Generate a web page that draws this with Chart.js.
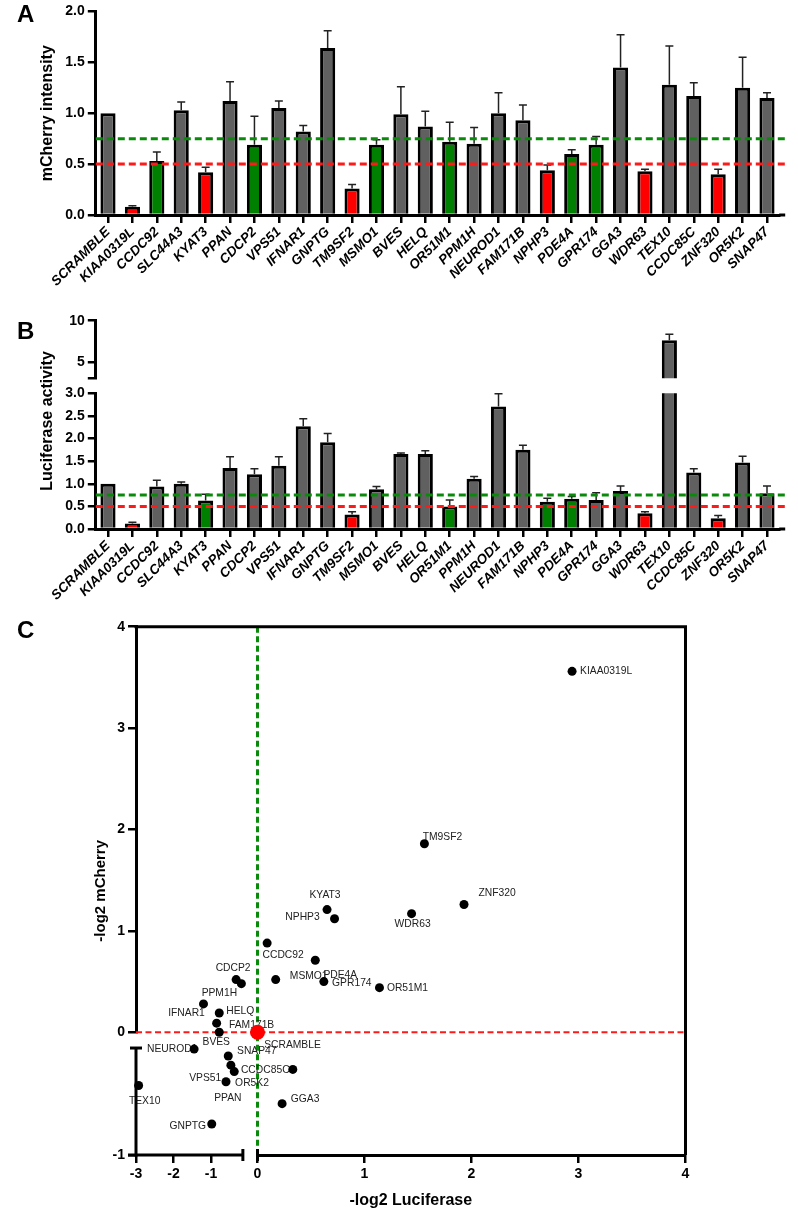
<!DOCTYPE html>
<html>
<head>
<meta charset="utf-8">
<script src="https://cdn.jsdelivr.net/npm/chart.js@4.4.0/dist/chart.umd.min.js"></script>
<style>
  body { margin: 0; background: #fff; }
  #wrap { position: relative; width: 798px; height: 1215px; overflow: hidden; }
  canvas { position: absolute; left: 0; }
  .tag { position: absolute; left: 17px; font: bold 24px "Liberation Sans", Arial, sans-serif; line-height: 1; color: #000; }
</style>
</head>
<body>
<div id="wrap">
  <canvas id="chartA" width="798" height="300" style="top:0"></canvas>
  <canvas id="chartBlow" width="798" height="320" style="top:300px"></canvas>
  <canvas id="chartBup" width="798" height="90" style="top:300px"></canvas>
  <canvas id="chartC" width="798" height="615" style="top:600px"></canvas>
  <div class="tag" style="top:2px">A</div>
  <div class="tag" style="top:319px">B</div>
  <div class="tag" style="top:618px">C</div>
</div>
<script>
var genes = ['SCRAMBLE', 'KIAA0319L', 'CCDC92', 'SLC44A3', 'KYAT3', 'PPAN', 'CDCP2', 'VPS51', 'IFNAR1', 'GNPTG',
  'TM9SF2', 'MSMO1', 'BVES', 'HELQ', 'OR51M1', 'PPM1H', 'NEUROD1', 'FAM171B', 'NPHP3', 'PDE4A',
  'GPR174', 'GGA3', 'WDR63', 'TEX10', 'CCDC85C', 'ZNF320', 'OR5K2', 'SNAP47'];

// panel A - mCherry intensity, mean and error
var mcherry = [1.00, 0.08, 0.53, 1.03, 0.42, 1.12, 0.69, 1.05, 0.82, 1.64,
  0.26, 0.69, 0.99, 0.87, 0.72, 0.70, 1.00, 0.93, 0.44, 0.60,
  0.69, 1.45, 0.43, 1.28, 1.17, 0.40, 1.25, 1.15];
var mcherryErr = [0, 0.01, 0.09, 0.08, 0.05, 0.19, 0.28, 0.07, 0.06, 0.17,
  0.04, 0.05, 0.27, 0.15, 0.19, 0.16, 0.20, 0.15, 0.05, 0.04,
  0.08, 0.32, 0.02, 0.38, 0.13, 0.05, 0.30, 0.05];
// 0 = not a hit, 1 = below 0.75, 2 = below 0.5
var hitA = [0, 2, 1, 0, 2, 0, 1, 0, 0, 0, 2, 1, 0, 0, 1, 0, 0, 0, 2, 1, 1, 0, 2, 0, 0, 2, 0, 0];

// panel B - luciferase activity, mean and error
var luciferase = [1.00, 0.12, 0.94, 1.00, 0.63, 1.35, 1.21, 1.40, 2.27, 1.92,
  0.32, 0.88, 1.66, 1.66, 0.50, 1.11, 2.71, 1.75, 0.60, 0.67,
  0.64, 0.84, 0.35, 7.63, 1.25, 0.24, 1.47, 0.79];
var luciferaseErr = [0, 0.03, 0.14, 0.04, 0.14, 0.25, 0.12, 0.20, 0.17, 0.19,
  0.06, 0.06, 0.02, 0.07, 0.14, 0.05, 0.28, 0.10, 0.08, 0.05,
  0.16, 0.11, 0.03, 0.72, 0.08, 0.06, 0.14, 0.16];
var hitB = [0, 2, 0, 0, 1, 0, 0, 0, 0, 0, 2, 0, 0, 0, 1, 0, 0, 0, 1, 1, 0, 0, 2, 0, 0, 2, 0, 0];

var thresholds = [0.75, 0.5];

// panel C - -log2 luciferase (x) vs -log2 mCherry (y)
var scatterX = [0, 2.94, 0.09, 0, 0.65, -0.47, -0.33, -0.54, -1.20, -0.98,
  1.56, 0.17, -0.78, -0.78, 1.14, -0.19, -1.45, -0.85, 0.72, 0.54,
  0.62, 0.23, 1.44, -2.93, -0.38, 1.93, -0.60, 0.33];
var scatterY = [0, 3.56, 0.88, 0, 1.21, -0.16, 0.52, -0.075, 0.28, -0.71,
  1.86, 0.52, 0, 0.19, 0.44, 0.48, -0.01, 0.09, 1.12, 0.71,
  0.50, -0.52, 1.17, -0.35, -0.22, 1.26, -0.315, -0.20];

var ticksA = [0, 0.5, 1, 1.5, 2];
var ticksBLow = [0, 0.5, 1, 1.5, 2, 2.5, 3];
var ticksBHigh = [3, 5, 10];
var ticksCXLeft = [-3, -2, -1];
var ticksCXRight = [0, 1, 2, 3, 4];
var ticksCYTop = [0, 1, 2, 3, 4];
var ticksCYBot = [-1];

// ---- styling ----
var FONT = '"Liberation Sans", Arial, sans-serif';
var hitColors = ['#606060', '#008000', '#ff0000'];
var lineColors = ['#0a8a0a', '#ff1a1a'];
var tickFont = { family: FONT, size: 14, weight: 'bold' };

// where each scatter label sits relative to its dot
var labelOffsets = [[35, 13], [34, 0], [16, 12], null, [-2, -14], [-3, 33], [-3, -11], [-23, 22], [-17, 9], [-24, 2],
  [18, -7], [33, -3], [-3, 10], [21, -2], [28, 0], [-22, 10], [-22, 0], [35, 2], [-32, -2], [25, 15],
  [28, 2], [23, -4], [1, 11], [6, 16], [31, -1], [33, -11], [26, 1], [-36, -18]];

var errorBars = {
  id: 'errorBars',
  afterDatasetsDraw: function (chart, args, opts) {
    var ctx = chart.ctx, a = chart.chartArea, y = chart.scales.y;
    var meta = chart.getDatasetMeta(0), vals = chart.data.datasets[0].data;
    ctx.save();
    ctx.beginPath(); ctx.rect(a.left, a.top - 1, a.width, a.height + 1); ctx.clip();
    ctx.strokeStyle = '#222'; ctx.lineWidth = 1.5;
    opts.err.forEach(function (e, i) {
      if (!e || vals[i] + e < y.min) return;
      var bar = meta.data[i];
      var y0 = y.getPixelForValue(vals[i]), y1 = y.getPixelForValue(vals[i] + e);
      ctx.beginPath();
      ctx.moveTo(bar.x, y0); ctx.lineTo(bar.x, y1);
      ctx.moveTo(bar.x - 4, y1); ctx.lineTo(bar.x + 4, y1);
      ctx.stroke();
    });
    ctx.restore();
  }
};

var thresholdLines = {
  id: 'thresholds',
  afterDatasetsDraw: function (chart, args, opts) {
    var ctx = chart.ctx, a = chart.chartArea, y = chart.scales.y;
    ctx.save(); ctx.lineWidth = 3; ctx.setLineDash([7, 4]);
    (opts.lines || []).forEach(function (v, i) {
      if (v < y.min || v > y.max) return;
      var py = y.getPixelForValue(v);
      ctx.strokeStyle = lineColors[i];
      ctx.beginPath(); ctx.moveTo(a.left, py); ctx.lineTo(a.right + 6, py); ctx.stroke();
    });
    // axis line runs a little past the last category, as in the figure
    if (chart.scales.x.options.display) {
      ctx.setLineDash([]); ctx.strokeStyle = '#000';
      ctx.beginPath(); ctx.moveTo(a.right, a.bottom); ctx.lineTo(a.right + 6, a.bottom); ctx.stroke();
    }
    if (opts.title) {
      ctx.setLineDash([]);
      ctx.font = 'bold 16px ' + FONT; ctx.fillStyle = '#000';
      ctx.textAlign = 'center'; ctx.textBaseline = 'middle';
      ctx.translate(opts.title.x, opts.title.y); ctx.rotate(-Math.PI / 2);
      ctx.fillText(opts.title.text, 0, 0);
    }
    ctx.restore();
  }
};

function makeBars(id, values, errs, hits, cfg) {
  return new Chart(document.getElementById(id), {
    type: 'bar',
    data: {
      labels: genes,
      datasets: [{
        data: values,
        backgroundColor: hits.map(function (h) { return hitColors[h]; }),
        borderColor: '#000',
        borderWidth: 3,
        barPercentage: 0.62,
        categoryPercentage: 1,
        clip: 0
      }]
    },
    options: {
      responsive: false,
      animation: false,
      layout: { padding: cfg.padding },
      plugins: {
        legend: { display: false },
        tooltip: { enabled: false },
        errorBars: { err: errs },
        thresholds: { lines: cfg.lines, title: cfg.sideTitle }
      },
      scales: {
        x: {
          display: cfg.showX,
          offset: true,
          z: 1,
          afterFit: function (s) { s.height = cfg.xHeight; s.paddingLeft = 0; s.paddingRight = 0; },
          grid: { offset: false, drawOnChartArea: false, tickLength: 8, lineWidth: 2.5, color: '#000' },
          border: { color: '#000', width: 3 },
          ticks: {
            autoSkip: false, minRotation: 45, maxRotation: 45, padding: 1, color: '#000',
            font: { family: FONT, size: 13.5, weight: 'bold', style: 'italic' }
          }
        },
        y: {
          min: cfg.min,
          max: cfg.max,
          z: 1,
          afterFit: function (s) { s.width = 57.9; },
          afterBuildTicks: function (s) { s.ticks = cfg.ticks.map(function (v) { return { value: v }; }); },
          grid: { drawOnChartArea: false, tickLength: 8, lineWidth: 2.5, color: '#000' },
          border: { color: '#000', width: 3 },
          ticks: { color: '#000', font: tickFont, padding: 3, callback: cfg.fmt },
          title: cfg.title ? {
            display: true, text: cfg.title, color: '#000', padding: { top: 0, bottom: 0 },
            font: { family: FONT, size: 16, weight: 'bold' }
          } : { display: false }
        }
      }
    },
    plugins: [errorBars, thresholdLines]
  });
}

function oneDecimal(v) { return v.toFixed(1); }

makeBars('chartA', mcherry, mcherryErr, hitA, {
  padding: { left: 37.9, right: 18.8, top: 7, bottom: 0 },
  showX: true, xHeight: 85, min: 0, max: 2, ticks: ticksA, fmt: oneDecimal,
  lines: thresholds, title: 'mCherry intensity'
});

makeBars('chartBlow', luciferase, luciferaseErr, hitB, {
  padding: { left: 37.9, right: 18.8, top: 93.3, bottom: 0 },
  showX: true, xHeight: 91, min: 0, max: 3, ticks: ticksBLow, fmt: oneDecimal,
  lines: thresholds, sideTitle: { text: 'Luciferase activity', x: 47.5, y: 121 }
});

makeBars('chartBup', luciferase, luciferaseErr, hitB, {
  padding: { left: 37.9, right: 18.8, top: 20.7, bottom: 11.7 },
  showX: false, xHeight: 0, min: 3, max: 10, ticks: ticksBHigh,
  fmt: function (v) { return v === 3 ? '' : String(v); },
  lines: []
});

// ---- panel C ----
var cDashes = {
  id: 'cDashes',
  beforeDatasetsDraw: function (chart) {
    var ctx = chart.ctx, a = chart.chartArea, s = chart.scales;
    var x0 = s.xRight.getPixelForValue(0), y0 = s.yTop.getPixelForValue(0);
    ctx.save();
    ctx.setLineDash([6, 3.5]);
    ctx.strokeStyle = lineColors[1]; ctx.lineWidth = 2;
    ctx.beginPath(); ctx.moveTo(a.left, y0); ctx.lineTo(a.right, y0); ctx.stroke();
    ctx.strokeStyle = lineColors[0]; ctx.lineWidth = 3;
    ctx.beginPath(); ctx.moveTo(x0, a.top); ctx.lineTo(x0, a.bottom); ctx.stroke();
    ctx.restore();
  }
};

var geneLabels = {
  id: 'geneLabels',
  beforeDatasetsDraw: function (chart) {
    var ctx = chart.ctx;
    ctx.save();
    ctx.font = '10.3px ' + FONT; ctx.fillStyle = '#222';
    ctx.textAlign = 'center'; ctx.textBaseline = 'middle';
    chart.data.datasets.forEach(function (ds, d) {
      chart.getDatasetMeta(d).data.forEach(function (pt, j) {
        var i = ds.data[j].i, off = labelOffsets[i];
        if (!off) return;
        ctx.fillText(genes[i], pt.x + off[0], pt.y + off[1]);
      });
    });
    ctx.restore();
  }
};

var cFrame = {
  id: 'cFrame',
  afterDatasetsDraw: function (chart) {
    var ctx = chart.ctx, a = chart.chartArea, s = chart.scales;
    function line(x1, y1, x2, y2) { ctx.beginPath(); ctx.moveTo(x1, y1); ctx.lineTo(x2, y2); ctx.stroke(); }
    ctx.save();
    ctx.strokeStyle = '#000'; ctx.lineWidth = 3;
    line(a.left - 1.5, a.top, a.right + 1.5, a.top);
    line(a.right, a.top, a.right, a.bottom);
    var yb0 = s.yBot.getPixelForValue(0), yb1 = s.yBot.getPixelForValue(-1);
    line(a.left, yb0, a.left, yb1 + 1.5);
    line(a.left - 6, yb0, a.left + 6, yb0);
    var xl0 = s.xLeft.getPixelForValue(-3) - 8, xl1 = s.xLeft.getPixelForValue(-0.15);
    line(xl0, a.bottom, xl1, a.bottom);
    line(xl1, a.bottom - 6, xl1, a.bottom + 6);
    var xr0 = s.xRight.getPixelForValue(0);
    line(xr0, a.bottom - 6, xr0, a.bottom + 6);
    ctx.fillStyle = '#000'; ctx.textAlign = 'center'; ctx.textBaseline = 'middle';
    ctx.font = 'bold 16px ' + FONT;
    ctx.fillText('-log2 Luciferase', (a.left + a.right) / 2, 600.7);
    ctx.font = 'bold 15px ' + FONT;
    ctx.translate(100.5, (a.top + a.bottom) / 2);
    ctx.rotate(-Math.PI / 2);
    ctx.fillText('-log2 mCherry', 0, 0);
    ctx.restore();
  }
};

function cAxis(extra) {
  var base = {
    type: 'linear',
    grid: { drawOnChartArea: false, tickLength: 8, lineWidth: 2.5, color: '#000' },
    border: { display: false },
    ticks: { color: '#000', font: tickFont, padding: 3, maxRotation: 0, autoSkip: false }
  };
  return Object.assign(base, extra);
}

function fixedTicks(list) {
  return function (s) { s.ticks = list.map(function (v) { return { value: v }; }); };
}

// SCRAMBLE first so it is drawn on top of the others
var cSets = [{
  data: [{ x: scatterX[0], y: scatterY[0], i: 0 }], xAxisID: 'xRight', yAxisID: 'yTop', clip: false,
  pointRadius: 7.5, pointBackgroundColor: '#ff0000', pointBorderWidth: 0, showLine: false
}];
var quadrants = [['xLeft', 'yTop'], ['xRight', 'yTop'], ['xLeft', 'yBot'], ['xRight', 'yBot']];
quadrants.forEach(function (q) {
  cSets.push({
    data: [], xAxisID: q[0], yAxisID: q[1], clip: false,
    pointRadius: 4.5, pointBackgroundColor: '#000', pointBorderWidth: 0, showLine: false
  });
});
genes.forEach(function (g, i) {
  if (i === 0) return;
  var q = (scatterX[i] < 0 ? 0 : 1) + (scatterY[i] < 0 ? 2 : 0);
  cSets[q + 1].data.push({ x: scatterX[i], y: scatterY[i], i: i });
});

new Chart(document.getElementById('chartC'), {
  type: 'scatter',
  data: { datasets: cSets },
  options: {
    responsive: false,
    animation: false,
    layout: { padding: { left: 96, right: 112.5, top: 26.7, bottom: 20 } },
    plugins: { legend: { display: false }, tooltip: { enabled: false } },
    scales: {
      yTop: cAxis({
        position: 'left', stack: 'cy', stackWeight: 405.6, weight: 2, min: 0, max: 4,
        afterFit: function (s) { s.width = 40; }, afterBuildTicks: fixedTicks(ticksCYTop),
        border: { display: true, color: '#000', width: 3 }
      }),
      yBot: cAxis({
        position: 'left', stack: 'cy', stackWeight: 122.7, weight: 1, min: -1, max: 0.147,
        afterFit: function (s) { s.width = 40; }, afterBuildTicks: fixedTicks(ticksCYBot)
      }),
      xLeft: cAxis({
        position: 'bottom', stack: 'cx', stackWeight: 121.5, weight: 1, min: -3, max: 0.24,
        afterFit: function (s) { s.height = 40; s.paddingLeft = 0; s.paddingRight = 0; },
        afterBuildTicks: fixedTicks(ticksCXLeft)
      }),
      xRight: cAxis({
        position: 'bottom', stack: 'cx', stackWeight: 428, weight: 2, min: 0, max: 4,
        afterFit: function (s) { s.height = 40; s.paddingLeft = 0; s.paddingRight = 0; },
        afterBuildTicks: fixedTicks(ticksCXRight),
        border: { display: true, color: '#000', width: 3 }
      })
    }
  },
  plugins: [cDashes, geneLabels, cFrame]
});
</script>
</body>
</html>
